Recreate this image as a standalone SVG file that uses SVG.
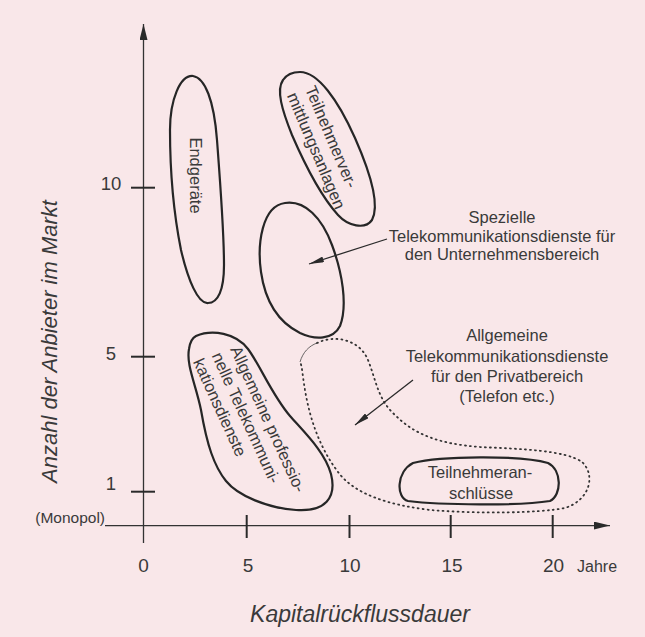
<svg xmlns="http://www.w3.org/2000/svg" width="645" height="637" viewBox="0 0 645 637">
<defs>
<style>
.t{font-family:"Liberation Sans",Arial,Helvetica,sans-serif;fill:#3a3a3a;font-size:16.5px}
.num{font-size:19px;text-anchor:middle}
.ti{font-style:italic;font-size:23px}
.ax{stroke:#333;stroke-width:1.3;fill:none}
.tk{stroke:#2a2a2a;stroke-width:2;fill:none}
.blob{stroke:#262626;stroke-width:2.2;fill:none}
.dot{stroke:#333;stroke-width:1.8;fill:none;stroke-dasharray:1 4;stroke-linecap:round}
.arr{stroke:#2a2a2a;stroke-width:1.3;fill:none}
</style>
<marker id="ah" viewBox="0 0 15 6" refX="15" refY="3" markerWidth="15" markerHeight="6" markerUnits="userSpaceOnUse" orient="auto"><path d="M0,0 L15,3 L0,6 Z" fill="#2a2a2a"/></marker>
<marker id="axh" viewBox="0 0 16 8" refX="16" refY="4" markerWidth="16" markerHeight="8" markerUnits="userSpaceOnUse" orient="auto"><path d="M0,0 L16,4 L0,8 Z" fill="#2a2a2a"/></marker>
</defs>
<rect width="645" height="637" fill="#f9e7e9"/>

<g id="axes">
<line class="ax" x1="143.5" y1="543" x2="143.5" y2="24" marker-end="url(#axh)"/>
<line class="ax" x1="105" y1="525.6" x2="610" y2="525.6" marker-end="url(#axh)"/>
<line class="tk" x1="131" y1="187.7" x2="155" y2="187.7"/>
<line class="tk" x1="131" y1="356.7" x2="155" y2="356.7"/>
<line class="tk" x1="131" y1="491.7" x2="155" y2="491.7"/>
<line class="tk" x1="246.7" y1="515" x2="246.7" y2="538"/>
<line class="tk" x1="349.5" y1="515" x2="349.5" y2="538"/>
<line class="tk" x1="450.7" y1="515" x2="450.7" y2="538"/>
<line class="tk" x1="552.7" y1="515" x2="552.7" y2="538"/>
<text class="t num" x="111" y="190" style="font-size:18.5px">10</text>
<text class="t num" x="111" y="360" style="font-size:18.5px">5</text>
<text class="t num" x="111" y="490" style="font-size:18.5px">1</text>
<text class="t" x="105" y="523" text-anchor="end" style="font-size:15.5px">(Monopol)</text>
<text class="t num" x="143.5" y="572">0</text>
<text class="t num" x="248" y="572">5</text>
<text class="t num" x="350" y="572">10</text>
<text class="t num" x="452" y="572">15</text>
<text class="t num" x="553.5" y="572">20</text>
<text class="t" x="577" y="572" style="font-size:16px">Jahre</text>
<text class="t ti" x="360" y="621.5" text-anchor="middle">Kapitalrückflussdauer</text>
<text class="t ti" transform="translate(57,341.5) rotate(-90)" text-anchor="middle" style="font-size:22px">Anzahl der Anbieter im Markt</text>
</g>

<g id="endgeraete">
<path class="blob" d="M193,76 C205,78 214,100 217,140 C220,180 224,230 224,265 C224,290 218,303 208,303 C198,304 188,280 181,250 C174,215 170,170 170,130 C170,100 180,75 193,76 Z"/>
<text class="t" transform="translate(189.5,175.5) rotate(90)" text-anchor="middle">Endgeräte</text>
</g>

<g id="teilnehmervermittlung">
<path class="blob" d="M300,72 C318,72 338,100 355,138 C370,172 380,205 372,220 C365,230 348,226 338,215 C320,195 305,165 292,135 C282,110 276,90 283,80 C287,74 294,72 300,72 Z"/>
<text class="t" transform="translate(326,139) rotate(67)" text-anchor="middle">Teilnehmerver-</text>
<text class="t" transform="translate(311,153) rotate(67)" text-anchor="middle">mittlungsanlagen</text>
</g>

<g id="spezielle">
<path class="blob" d="M285,203 C305,200 322,218 332,245 C342,272 348,305 340,326 C333,340 315,340 300,333 C278,322 265,300 261,272 C257,244 262,206 285,203 Z"/>
<text class="t" x="502" y="222.7" text-anchor="middle">Spezielle</text>
<text class="t" x="502" y="241.7" text-anchor="middle">Telekommunikationsdienste für</text>
<text class="t" x="502" y="260" text-anchor="middle">den Unternehmensbereich</text>
</g>

<g id="professionelle">
<path class="blob" d="M196,336 C212,329 236,333 248,349 C260,365 272,395 290,416 C305,433 325,452 331,474 C337,498 325,512 296,510 C268,508 238,496 226,481 C214,466 207,445 201,410 C196,385 186,365 189,349 C190,342 192,338 196,336 Z"/>
<g transform="translate(230,349.3) rotate(65.5)">
<text class="t" x="0" y="0">Allgemeine professio-</text>
<text class="t" x="-2" y="19.5">nelle Telekommuni-</text>
<text class="t" x="-4" y="39">kationsdienste</text>
</g>
</g>

<g id="privat">
<path d="M300,362 C303,352 309,346 317,343" stroke="#444" stroke-width="0.8" fill="none"/>
<path class="dot" d="M317,343 C335,334 360,340 368,360 C376,380 378,400 395,415 C415,435 440,444 480,447 C520,449 565,450 582,462 C596,475 590,500 565,508 C540,513 480,514 430,510 C390,505 355,495 338,472 C320,448 310,420 305,390 C302,372 302,365 300,362"/>
<text class="t" x="507" y="340.7" text-anchor="middle">Allgemeine</text>
<text class="t" x="507" y="361.7" text-anchor="middle">Telekommunikationsdienste</text>
<text class="t" x="507" y="382" text-anchor="middle">für den Privatbereich</text>
<text class="t" x="507" y="401.7" text-anchor="middle">(Telefon etc.)</text>
</g>

<g id="anschluesse">
<path class="blob" d="M413,463 C440,456 520,455 548,463 C562,470 562,495 550,501 C520,506 440,505 408,501 C396,498 396,472 413,463 Z"/>
<text class="t" x="480" y="478" text-anchor="middle">Teilnehmeran-</text>
<text class="t" x="481" y="498.5" text-anchor="middle">schlüsse</text>
</g>

<g id="connectors">
<line class="arr" x1="387" y1="239" x2="309" y2="264" marker-end="url(#ah)"/>
<line class="arr" x1="413" y1="380" x2="355" y2="425" marker-end="url(#ah)"/>
</g>
</svg>
